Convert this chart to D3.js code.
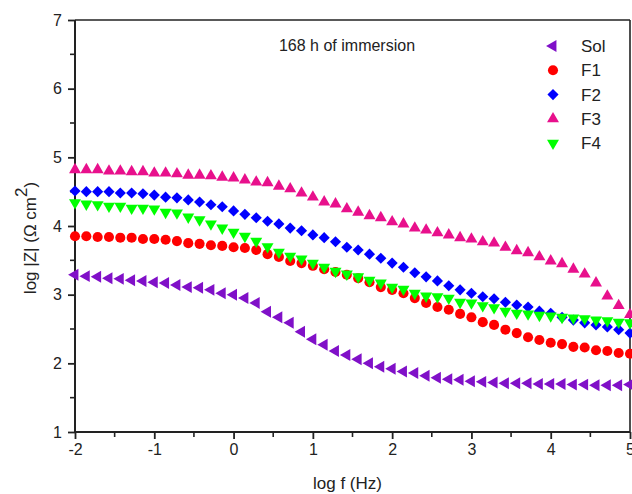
<!DOCTYPE html>
<html>
<head>
<meta charset="utf-8">
<script src="https://cdn.jsdelivr.net/npm/d3@7"></script>
<style>
body{margin:0;background:#fff;}
text{font-family:"Liberation Sans",Arial,sans-serif;fill:#222;}
</style>
</head>
<body>
<svg id="chart" width="632" height="494"></svg>
<script>
// log f values: 50 points from -2 to 5 (7 per decade)
const logF = d3.range(50).map(k => -2 + k / 7);

const sol = [3.29,3.27,3.26,3.24,3.23,3.21,3.20,3.18,3.17,3.14,3.11,3.10,3.07,3.02,3.00,2.95,2.88,
  2.75,2.67,2.59,2.46,2.35,2.27,2.18,2.12,2.06,2.00,1.95,1.92,1.88,1.86,1.82,1.79,1.77,1.76,1.74,
  1.73,1.72,1.71,1.71,1.71,1.70,1.70,1.70,1.69,1.69,1.68,1.68,1.68,1.69];
const f1 = [3.85,3.85,3.84,3.84,3.83,3.83,3.81,3.81,3.80,3.78,3.75,3.74,3.72,3.71,3.69,3.68,3.65,
  3.59,3.55,3.49,3.46,3.42,3.37,3.33,3.29,3.24,3.18,3.11,3.07,3.02,2.95,2.88,2.82,2.78,2.72,2.67,
  2.60,2.56,2.49,2.44,2.38,2.34,2.30,2.28,2.24,2.23,2.19,2.18,2.15,2.14];
const f2 = [4.51,4.50,4.50,4.50,4.48,4.48,4.47,4.45,4.42,4.41,4.38,4.35,4.31,4.28,4.22,4.17,4.12,
  4.07,4.03,3.97,3.93,3.87,3.83,3.77,3.69,3.65,3.59,3.53,3.46,3.40,3.32,3.26,3.20,3.13,3.07,3.02,
  2.97,2.94,2.89,2.85,2.82,2.76,2.73,2.67,2.63,2.59,2.56,2.53,2.49,2.44];
const f3 = [4.82,4.82,4.82,4.80,4.80,4.79,4.79,4.77,4.77,4.76,4.74,4.74,4.73,4.71,4.70,4.67,4.64,
  4.63,4.58,4.54,4.48,4.42,4.35,4.32,4.25,4.20,4.15,4.12,4.06,4.03,3.97,3.94,3.90,3.87,3.83,3.81,
  3.77,3.75,3.69,3.64,3.61,3.55,3.49,3.45,3.37,3.30,3.17,2.98,2.84,2.71];
const f4 = [4.34,4.32,4.31,4.29,4.29,4.26,4.26,4.25,4.20,4.19,4.13,4.09,4.03,3.97,3.91,3.85,3.78,
  3.70,3.62,3.56,3.52,3.46,3.40,3.34,3.30,3.26,3.21,3.17,3.11,3.08,3.02,2.98,2.97,2.95,2.89,2.88,
  2.84,2.81,2.76,2.73,2.72,2.70,2.69,2.67,2.66,2.65,2.63,2.62,2.60,2.59];

const seriesNames = ["Sol","F1","F2","F3","F4"];
const seriesColors = ["#8010c8","#ff0000","#0000ff","#e8108c","#00ff00"];
const xTicks = [-2,-1,0,1,2,3,4,5];
const yTicks = [1,2,3,4,5,6,7];
const titleText = "168 h of immersion";

const seriesData = [sol,f1,f2,f3,f4];

const svg = d3.select("#chart");
const L = 75, R = 630, T = 20, B = 432;
const x = d3.scaleLinear().domain([-2,5]).range([L,R]);
const y = d3.scaleLinear().domain([1,7]).range([B,T]);

// frame top & right
svg.append("line").attr("x1",L).attr("x2",R).attr("y1",T).attr("y2",T).attr("stroke","#222").attr("stroke-width",1.6);
svg.append("line").attr("x1",R).attr("x2",R).attr("y1",T).attr("y2",B).attr("stroke","#222").attr("stroke-width",1.6);

// minor ticks
const xMinor = d3.range(-1.5,5,1);
const yMinor = d3.range(1.5,7,1);
const gx = svg.append("g").attr("transform",`translate(0,${B})`);
gx.call(d3.axisBottom(x).tickValues(xTicks).tickSize(7).tickPadding(5).tickFormat(d=>d<0?"-"+Math.abs(d):String(d)));
gx.selectAll("line.minor").data(xMinor).enter().append("line").attr("class","minor")
  .attr("x1",d=>x(d)).attr("x2",d=>x(d)).attr("y1",0).attr("y2",5).attr("stroke","#222").attr("stroke-width",1.6);
const gy = svg.append("g").attr("transform",`translate(${L},0)`);
gy.call(d3.axisLeft(y).tickValues(yTicks).tickSize(7).tickPadding(6).tickFormat(d3.format("d")));
gy.selectAll("line.minor").data(yMinor).enter().append("line").attr("class","minor")
  .attr("x1",0).attr("x2",-5).attr("y1",d=>y(d)).attr("y2",d=>y(d)).attr("stroke","#222").attr("stroke-width",1.6);
[gx,gy].forEach(g=>{
  g.select(".domain").attr("stroke","#222").attr("stroke-width",2);
  g.selectAll(".tick line").attr("stroke","#222").attr("stroke-width",1.8);
  g.selectAll(".tick text").attr("font-size",16).attr("fill","#222").style("font-family","Liberation Sans, Arial, sans-serif");
});
gx.select(".domain").attr("d",`M${L},0H${R}`);
gy.select(".domain").attr("d",`M0,${T}V${B}`);

// symbols
function symPath(i){
  if(i===0) return {d:d3.symbol().type(d3.symbolTriangle).size(62)(), rot:-90};
  if(i===1) return {d:d3.symbol().type(d3.symbolCircle).size(80)(), rot:0};
  if(i===2) return {d:d3.symbol().type(d3.symbolSquare).size(62)(), rot:45};
  if(i===3) return {d:d3.symbol().type(d3.symbolTriangle).size(62)(), rot:0};
  return {d:d3.symbol().type(d3.symbolTriangle).size(62)(), rot:180};
}

const plot = svg.append("g");
seriesData.forEach((vals,i)=>{
  const s = symPath(i);
  plot.append("g").selectAll("path").data(vals.map((v,k)=>[logF[k],v])).enter().append("path")
    .attr("d",s.d)
    .attr("transform",d=>`translate(${x(d[0])},${y(d[1])}) rotate(${s.rot})`)
    .attr("fill",seriesColors[i]);
});

// title
svg.append("text").attr("x",347).attr("y",51).attr("text-anchor","middle").attr("font-size",16).text(titleText);

// legend
seriesNames.forEach((n,i)=>{
  const s = symPath(i);
  const yy = 46 + i*24.3;
  svg.append("path").attr("d",s.d).attr("transform",`translate(553,${yy}) rotate(${s.rot})`).attr("fill",seriesColors[i]);
  svg.append("text").attr("x",581).attr("y",yy+6).attr("font-size",17).text(n);
});

// axis titles
svg.append("text").attr("x",(L+R)/2-5).attr("y",489).attr("text-anchor","middle").attr("font-size",17).text("log f (Hz)");
const yt = svg.append("text").attr("transform","translate(36,238) rotate(-90)").attr("text-anchor","middle").attr("font-size",17);
yt.append("tspan").text("log |Z| (Ω cm");
yt.append("tspan").attr("dy",-9).attr("font-size",17).text("2");
yt.append("tspan").attr("dy",9).text(")");
</script>
</body>
</html>
